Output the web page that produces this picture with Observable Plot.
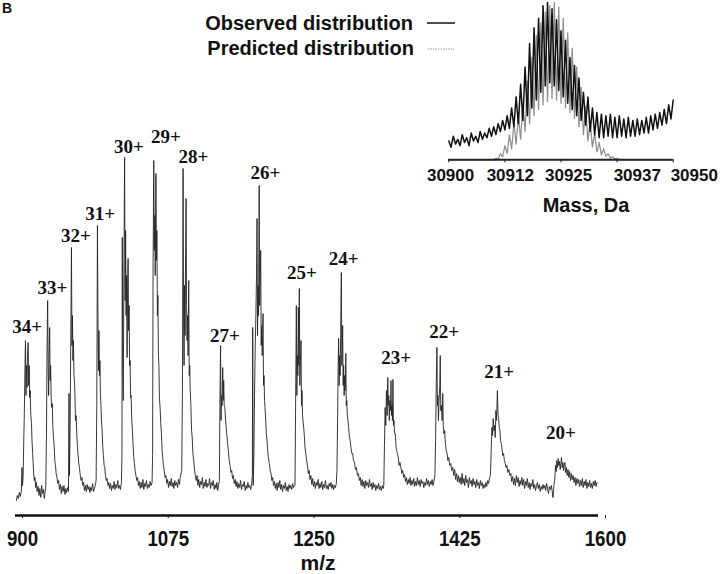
<!DOCTYPE html>
<html><head><meta charset="utf-8">
<script src="https://cdn.jsdelivr.net/npm/d3@7"></script>
<script src="https://cdn.jsdelivr.net/npm/@observablehq/plot@0.6"></script>
<style>
body{margin:0;background:#fff;}
#wrap{position:relative;width:720px;height:574px;overflow:hidden;background:#fff;}
#wrap svg{position:absolute;}
</style></head><body><div id="wrap"></div>
<script>
// ---------- main spectrum data ----------
const xTicks = [900, 1075, 1250, 1425, 1600];
const chargeLabels = ["34+","33+","32+","31+","30+","29+","28+","27+","26+","25+","24+","23+","22+","21+","20+"];
const labelMz = [914.0, 944.4, 972.6, 1001.6, 1036.3, 1080.6, 1113.6, 1151.4, 1200.0, 1244.0, 1294.0, 1357.0, 1414.8, 1480.6, 1555.0];
const labelIntensity = [183, 222, 274, 296, 363, 373, 353, 174, 337, 237, 251, 152, 178, 138, 77];

// [m/z, intensity (arbitrary counts)]
const spectrum = [
 [901.0,15],[902.2,20],[903.4,17],[904.6,23],[905.8,19],[907.0,24],[907.8,48],[908.4,30],[909.2,40],[909.8,70],[910.6,102],[911.4,150],[912.0,175],[912.6,120],[913.2,150],[913.8,128],[914.4,160],[915.2,173],[915.8,130],[916.4,150],[917.0,118],[917.6,125],[918.4,100],[919.2,92],[919.8,75],[920.6,62],[921.2,52],[921.8,42],[922.6,35],[923.4,38],[924.2,28],[925.2,33],[926.0,24],[927.2,29],[928.2,20],[929.2,27],[930.4,18],[931.4,30],[932.4,22],[933.6,26],[934.6,17],[935.6,24],
 [936.4,30],[937.2,80],[937.8,160],[938.6,215],[939.2,150],[939.8,120],[940.4,160],[941.0,188],[941.6,135],[942.2,150],[942.8,118],[943.4,108],[944.2,112],[944.8,90],[945.6,78],[946.4,70],[947.2,55],[948.0,50],[948.8,42],[949.8,38],[950.8,32],[951.8,35],[952.8,26],[954.0,31],[955.0,22],[956.0,29],[957.2,24],[958.2,30],[959.4,21],[960.4,27],[961.4,23],[962.6,28],[963.6,24],
 [964.2,122],[964.8,40],[965.6,90],[966.4,180],[967.2,268],[967.8,170],[968.4,200],[969.0,155],[969.6,175],[970.2,140],[970.8,135],[971.4,120],[972.0,95],[972.8,100],[973.6,80],[974.4,68],[975.2,60],[976.0,52],[976.8,48],[977.8,40],[978.8,35],[979.8,38],[980.8,30],[981.8,33],[982.8,25],[984.0,30],[985.0,24],[986.0,31],[987.2,26],[988.2,29],[989.4,23],[990.4,28],[991.4,25],[992.6,32],[993.6,24],[994.8,27],[995.8,30],
 [996.8,35],[997.6,110],[998.4,290],[999.0,200],[999.6,145],[1000.2,185],[1000.8,140],[1001.4,155],[1002.0,120],[1002.6,110],[1003.2,95],[1004.0,85],[1004.8,68],[1005.6,60],[1006.4,50],[1007.2,48],[1008.0,40],[1009.0,35],[1010.0,37],[1011.0,30],[1012.0,33],[1013.0,27],[1014.2,32],[1015.2,25],[1016.2,30],[1017.4,27],[1018.4,34],[1019.6,26],[1020.6,31],[1021.6,28],[1022.8,35],[1023.8,27],[1025.0,30],[1026.0,26],[1027.2,33],
 [1027.8,60],[1028.2,278],[1028.8,150],[1029.4,115],[1030.2,250],[1031.0,358],[1031.6,215],[1032.2,285],[1032.8,200],[1033.4,240],[1034.0,158],[1034.6,230],[1035.2,257],[1035.8,185],[1036.4,210],[1037.0,150],[1037.6,155],[1038.2,118],[1038.8,120],[1039.6,95],[1040.4,85],[1041.2,70],[1042.0,58],[1042.8,52],[1043.6,45],[1044.6,40],[1045.6,35],[1046.6,38],[1047.6,30],[1048.6,34],[1049.8,27],[1050.8,33],[1051.8,28],[1053.0,36],[1054.0,26],[1055.2,32],[1056.2,29],[1057.2,35],[1058.4,27],[1059.4,31],[1060.6,28],[1061.6,34],[1062.8,30],[1064.0,33],
 [1064.6,60],[1065.2,250],[1066.0,355],[1066.6,265],[1067.2,300],[1067.8,240],[1068.6,342],[1069.2,255],[1069.8,285],[1070.4,200],[1071.0,220],[1071.6,160],[1072.2,150],[1072.8,118],[1073.6,108],[1074.4,92],[1075.2,82],[1076.0,65],[1076.8,58],[1077.6,50],[1078.6,45],[1079.6,38],[1080.6,40],[1081.6,32],[1082.6,36],[1083.8,28],[1084.8,34],[1085.8,30],[1087.0,37],[1088.0,29],[1089.2,33],[1090.2,27],[1091.2,35],[1092.4,30],[1093.4,33],[1094.6,28],[1095.6,36],[1096.8,31],[1097.8,38],
 [1099.6,45],[1100.4,120],[1101.2,347],[1101.8,200],[1102.4,150],[1103.0,230],[1103.6,180],[1104.2,260],[1104.8,317],[1105.4,210],[1106.0,175],[1106.6,200],[1107.2,160],[1108.0,235],[1108.6,140],[1109.2,150],[1109.8,125],[1110.6,110],[1111.4,85],[1112.2,78],[1113.0,62],[1114.0,55],[1115.0,45],[1116.0,40],[1117.0,35],[1118.0,40],[1119.0,30],[1120.0,36],[1121.2,28],[1122.2,34],[1123.2,31],[1124.4,38],[1125.4,27],[1126.6,33],[1127.6,29],[1128.6,36],[1129.8,28],[1130.8,32],[1132.0,30],[1133.0,37],[1134.2,27],[1135.2,33],[1136.4,30],[1137.4,35],[1138.6,26],[1139.6,31],[1140.8,27],[1141.8,33],[1142.8,25],
 [1144.8,35],[1145.4,110],[1146.2,170],[1146.8,95],[1147.4,120],[1148.0,110],[1148.8,148],[1149.4,115],[1150.0,135],[1150.6,110],[1151.4,108],[1152.2,95],[1153.0,88],[1153.8,80],[1154.6,72],[1155.6,65],[1156.6,55],[1157.6,50],[1158.6,43],[1159.6,45],[1160.6,37],[1161.6,40],[1162.6,32],[1163.8,36],[1164.8,29],[1165.8,34],[1167.0,27],[1168.0,32],[1169.2,28],[1170.2,35],[1171.4,26],[1172.4,31],[1173.6,29],[1174.6,34],[1175.8,25],[1176.8,30],[1178.0,27],[1179.0,33],[1180.2,28],[1181.2,30],[1182.4,26],[1183.4,31],
 [1184.4,40],[1184.8,188],[1185.4,30],[1186.2,60],[1187.0,120],[1187.8,168],[1188.6,200],[1189.4,240],[1190.0,297],[1190.6,180],[1191.2,230],[1191.8,200],[1192.6,330],[1193.2,210],[1193.8,235],[1194.4,265],[1195.0,170],[1195.6,190],[1196.2,160],[1196.8,180],[1197.2,202],[1197.8,130],[1198.4,140],[1199.0,115],[1199.6,108],[1200.4,95],[1201.2,82],[1202.0,75],[1202.8,65],[1203.6,58],[1204.8,52],[1205.8,45],[1206.8,42],[1207.8,35],[1208.8,38],[1209.8,30],[1211.0,34],[1212.0,27],[1213.0,32],[1214.2,25],[1215.2,33],[1216.2,28],[1217.4,35],[1218.4,26],[1219.6,31],[1220.6,24],[1221.8,30],[1222.8,27],[1224.0,33],[1225.0,25],[1226.2,29],[1227.2,24],[1228.4,31],[1229.4,27],[1230.6,30],[1231.6,26],[1232.8,32],[1233.8,28],
 [1235.6,30],[1236.4,120],[1237.2,210],[1237.8,120],[1238.4,160],[1239.0,140],[1239.6,208],[1240.2,150],[1240.8,227],[1241.4,130],[1242.0,150],[1242.8,175],[1243.4,110],[1244.0,125],[1244.6,100],[1245.2,95],[1246.0,88],[1246.8,80],[1247.6,68],[1248.6,62],[1249.6,55],[1250.6,50],[1251.6,42],[1252.6,45],[1253.6,36],[1254.6,40],[1255.8,31],[1256.8,37],[1257.8,29],[1259.0,34],[1260.0,27],[1261.2,33],[1262.2,30],[1263.4,36],[1264.4,27],[1265.6,32],[1266.6,28],[1267.8,34],[1268.8,26],[1270.0,31],[1271.0,28],[1272.2,35],[1273.2,27],[1274.4,30],[1275.4,26],[1276.6,32],[1277.6,29],[1278.8,33],[1279.8,27],[1281.0,31],[1282.0,26],[1283.2,30],[1284.2,28],
 [1285.2,32],[1286.0,45],[1286.8,100],[1287.4,150],[1288.0,177],[1288.6,130],[1289.2,160],[1289.8,140],[1290.4,180],[1291.2,243],[1291.8,150],[1292.4,165],[1292.8,190],[1293.4,130],[1294.0,150],[1294.6,120],[1295.2,140],[1295.8,125],[1296.6,162],[1297.2,110],[1297.8,115],[1298.4,100],[1299.2,95],[1300.0,88],[1300.8,80],[1301.8,75],[1302.8,68],[1303.8,62],[1304.8,62],[1305.8,55],[1307.0,53],[1308.2,46],[1309.4,48],[1310.6,40],[1311.8,42],[1312.8,35],[1314.0,38],[1315.0,30],[1316.2,36],[1317.2,29],[1318.4,34],[1319.4,27],[1320.6,35],[1321.6,30],[1322.8,33],[1323.8,28],[1325.0,36],[1326.0,29],[1327.2,32],[1328.2,26],[1329.4,33],[1330.4,28],[1331.6,31],[1332.6,25],[1333.8,30],[1334.8,27],[1336.0,32],[1337.0,26],[1338.2,29],[1339.2,25],[1340.4,30],[1341.4,27],
 [1342.2,30],[1343.0,70],[1343.8,108],[1344.6,90],[1345.4,125],[1346.2,100],[1347.0,138],[1347.6,110],[1348.2,120],[1348.8,95],[1349.6,115],[1350.4,105],[1350.8,135],[1351.4,100],[1352.0,110],[1352.6,95],[1353.2,136],[1353.8,90],[1354.4,95],[1355.2,82],[1356.0,82],[1356.8,70],[1357.6,65],[1358.6,62],[1359.6,58],[1360.6,50],[1361.6,53],[1362.8,48],[1363.8,42],[1365.0,45],[1366.0,38],[1367.2,41],[1368.2,34],[1369.4,38],[1370.4,31],[1371.6,36],[1372.6,32],[1373.8,38],[1374.8,30],[1376.0,35],[1377.0,31],[1378.2,37],[1379.2,29],[1380.4,34],[1381.4,30],[1382.6,38],[1383.6,31],[1384.8,35],[1385.8,29],[1387.0,36],[1388.0,32],[1389.2,34],[1390.2,28],[1391.4,33],[1392.4,30],[1393.6,37],[1394.6,31],[1395.8,35],[1396.8,29],[1398.0,34],[1399.0,31],[1400.2,36],[1401.2,30],[1402.4,34],
 [1403.6,40],[1404.4,75],[1405.2,132],[1406.0,168],[1406.6,110],[1407.2,120],[1407.8,95],[1408.6,115],[1409.4,130],[1410.0,160],[1410.6,105],[1411.4,110],[1412.2,95],[1413.0,122],[1413.6,90],[1414.4,82],[1415.2,85],[1416.2,72],[1417.2,65],[1418.2,62],[1419.2,55],[1420.2,58],[1421.4,50],[1422.6,52],[1423.8,45],[1425.0,48],[1426.2,40],[1427.4,46],[1428.4,36],[1429.6,42],[1430.6,34],[1431.8,40],[1432.8,33],[1434.0,38],[1435.0,31],[1436.2,42],[1437.2,32],[1438.4,37],[1439.4,30],[1440.6,40],[1441.6,33],[1442.8,36],[1443.8,28],[1445.0,38],[1446.0,32],[1447.2,35],[1448.2,29],[1449.4,37],[1450.4,31],[1451.6,34],[1452.6,28],[1453.8,36],[1454.8,30],[1456.0,33],[1457.0,27],[1458.2,35],[1459.2,30],[1460.4,33],[1461.4,27],[1462.6,31],[1463.6,28],[1464.8,33],[1465.8,29],[1467.0,35],[1468.0,32],[1469.2,38],
 [1470.2,40],[1471.0,60],[1472.0,88],[1472.8,80],[1473.6,97],[1474.4,85],[1475.2,90],[1476.0,78],[1476.8,105],[1477.6,95],[1478.6,125],[1479.4,100],[1480.0,98],[1480.8,88],[1481.6,85],[1482.4,75],[1483.2,72],[1484.0,68],[1485.0,60],[1486.0,62],[1487.0,55],[1488.0,52],[1489.0,48],[1490.0,50],[1491.2,43],[1492.4,46],[1493.6,40],[1494.8,42],[1495.8,34],[1497.0,39],[1498.0,31],[1499.2,37],[1500.2,30],[1501.4,40],[1502.4,33],[1503.6,38],[1504.6,29],[1505.8,35],[1506.8,31],[1508.0,38],[1509.0,30],[1510.2,36],[1511.2,27],[1512.4,34],[1513.4,30],[1514.6,37],[1515.6,28],[1516.8,33],[1517.8,26],[1519.0,32],[1520.0,29],[1521.2,36],[1522.2,27],[1523.4,31],[1524.4,25],[1525.6,30],[1526.6,33],[1527.8,27],[1528.8,31],[1530.0,24],[1531.2,29],[1532.2,26],[1533.4,31],[1534.4,27],[1535.6,30],[1536.6,25],[1537.8,32],[1538.8,27],[1540.0,22],[1541.0,29],
 [1542.2,26],[1543.4,30],[1544.4,24],[1545.4,18],[1546.4,30],[1547.4,35],[1548.4,50],[1549.2,44],[1550.0,55],[1550.8,48],[1551.6,57],[1552.4,50],[1553.2,54],[1554.0,46],[1554.8,52],[1555.6,58],[1556.4,48],[1557.2,53],[1558.0,45],[1558.8,50],[1559.6,53],[1560.4,43],[1561.4,48],[1562.4,40],[1563.4,46],[1564.4,38],[1565.4,44],[1566.4,35],[1567.4,42],[1568.4,36],[1569.6,40],[1570.6,33],[1571.8,38],[1572.8,30],[1574.0,37],[1575.0,32],[1576.2,36],[1577.2,29],[1578.4,35],[1579.4,30],[1580.6,37],[1581.6,28],[1582.8,34],[1583.8,30],[1585.0,36],[1586.0,27],[1587.2,33],[1588.2,29],[1589.4,35],[1590.4,28],[1591.6,32],[1592.6,27],[1593.8,34],[1594.8,30],[1596.0,35],[1597.0,29],[1598.2,33]
];

// ---------- inset (deconvoluted) data ----------
const insetTicks = [30900, 30912.5, 30925, 30937.5, 30950];
const insetTickLabels = ["30900", "30912", "30925", "30937", "30950"];
const insetTickLabelMass = [30900.4, 30913.7, 30926.7, 30942.0, 30954.7];

const observedMass = [30900,30901,30902,30903,30904,30905,30906,30907,30908,30909,30910,30911,30912,30913,30914,30915,30916,30917,30918,30919,30920,30921,30922,30923,30924,30925,30926,30927,30928,30929,30930,30931,30932,30933,30934,30935,30936,30937,30938,30939,30940,30941,30942,30943,30944,30945,30946,30947,30948,30949,30950];
const observedMax = [12,15,13,16,14,17,15,18,17,20,21,23,25,28,33,40,48,59,74,84,90,98,100,96,89,82,76,65,60,52,43,40,33,30,29,28,29,27,28,26,27,25,26,25,27,28,29,30,32,35,38];
const observedMin = [8,10,9,11,9,12,11,13,14,15,16,18,19,20,21,23,25,28,33,38,43,47,49,47,44,40,36,32,28,25,22,18,16,14,14,15,14,14,15,14,15,15,16,17,17,19,20,22,23,26];

const predictedPeakMass = [30910.5,30911.5,30912.5,30913.5,30914.5,30915.5,30916.5,30917.5,30918.5,30919.5,30920.5,30921.5,30922.5,30923.5,30924.5,30925.5,30926.5,30927.5,30928.5,30929.5,30930.5,30931.5,30932.5,30933.5,30934.5,30935.5,30936.5,30937.5];
const predictedPeak = [1,4,9,16,23,28,36,50,65,79,87,94,98,100,97,90,81,71,59,46,34,24,17,11,7,4,2,1];
const predictedTrough = [0.5,2,4,7,10,13,18,23,28,32,35,37,39,38,36,33,30,26,21,16,12,8,5,3,2,1,0.5,0];
const predictedRange = [30900, 30950];

// build zig-zag tables from the arrays
const observed = [];
observedMass.forEach((m, i) => {
  observed.push({mass: m, v: observedMax[i]});
  if (i < observedMin.length) observed.push({mass: m + 0.5, v: observedMin[i]});
});
const predicted = [{mass: predictedRange[0], v: 0}, {mass: predictedPeakMass[0] - 0.5, v: 0}];
predictedPeakMass.forEach((m, i) => {
  predicted.push({mass: m, v: predictedPeak[i]});
  predicted.push({mass: m + 0.5, v: predictedTrough[i]});
});
predicted.push({mass: predictedRange[1], v: 0});

const sans = '"Liberation Sans", Arial, Helvetica, sans-serif';
const serif = '"Liberation Serif", "Times New Roman", serif';
const condense = 0.85; // horizontal squeeze to mimic a condensed bold face

const wrap = document.getElementById("wrap");

const main = Plot.plot({
  width: 720, height: 574,
  marginLeft: 15, marginRight: 122, marginTop: 157, marginBottom: 59,
  x: {domain: [900, 1600], axis: null},
  y: {domain: [0, 358], axis: null},
  style: {background: "transparent", overflow: "visible", color: "#111"},
  marks: [
    Plot.line(spectrum, {x: d => d[0], y: d => d[1], stroke: "#222", strokeWidth: 0.9}),
    Plot.ruleY([0], {stroke: "#111", strokeWidth: 2.5}),
    Plot.axisX({ticks: xTicks, tickFormat: d => String(d), tickSize: 3, tickPadding: 12, dx: 7,
      label: null, fontSize: 22, fontFamily: sans, fontWeight: "bold", fill: "#111"}),
    Plot.text(chargeLabels, {x: (d, i) => labelMz[i], y: (d, i) => labelIntensity[i], text: d => d,
      lineAnchor: "bottom", fontFamily: serif, fontWeight: "bold", fontSize: 19, fill: "#111"})
  ]
});
main.style.left = "0px"; main.style.top = "0px";
wrap.appendChild(main);

// squeeze the main tick labels horizontally around their anchor
d3.select(main).selectAll('g[aria-label="x-axis tick label"] text').each(function() {
  const tr = this.getAttribute("transform");
  if (tr) {
    this.setAttribute("transform", tr + ` scale(${condense},1)`);
  } else {
    const x = +this.getAttribute("x") || 0, y = +this.getAttribute("y") || 0;
    this.removeAttribute("x"); this.removeAttribute("y");
    this.setAttribute("transform", `translate(${x},${y}) scale(${condense},1)`);
  }
});

const inset = Plot.plot({
  width: 290, height: 220,
  marginLeft: 18.3, marginRight: 47.3, marginTop: 2, marginBottom: 60.7,
  x: {domain: [30900, 30950], axis: null},
  y: {domain: [0, 100], axis: null},
  style: {background: "transparent", overflow: "visible", color: "#111"},
  marks: [
    Plot.line(predicted, {x: "mass", y: "v", stroke: "#8c8c8c", strokeWidth: 1.3, strokeDasharray: "1.2,1"}),
    Plot.ruleY([0], {stroke: "#222", strokeWidth: 2}),
    Plot.line(observed, {x: "mass", y: "v", stroke: "#111", strokeWidth: 1.5}),
    Plot.axisX({ticks: insetTicks, tickFormat: () => "", tickSize: 3, label: null}),
    Plot.text(insetTickLabels, {x: (d, i) => insetTickLabelMass[i], y: () => 0, text: d => d, dy: 20.7,
      lineAnchor: "bottom", fontFamily: sans, fontWeight: "bold", fontSize: 17, fill: "#111"})
  ]
});
inset.style.left = "430px"; inset.style.top = "0px";
wrap.appendChild(inset);

// annotations: panel letter, legend, axis titles
const ov = d3.select(wrap).append("svg").attr("width", 720).attr("height", 574)
  .style("left", "0px").style("top", "0px").style("overflow", "visible");
const t = (x, y, s, size, anchor, sx = 1) => ov.append("text")
  .attr("transform", `translate(${x},${y}) scale(${sx},1)`)
  .attr("text-anchor", anchor).attr("font-family", sans).attr("font-weight", "bold")
  .attr("font-size", size).attr("fill", "#111").text(s);
t(2, 13, "B", 14, "start");
t(413, 30, "Observed distribution", 20, "end");
t(414, 55, "Predicted distribution", 20, "end");
ov.append("line").attr("x1", 427).attr("x2", 455).attr("y1", 23).attr("y2", 23).attr("stroke", "#111").attr("stroke-width", 1.5);
ov.append("line").attr("x1", 428).attr("x2", 454).attr("y1", 49).attr("y2", 49).attr("stroke", "#999").attr("stroke-width", 1.2).attr("stroke-dasharray", "1.5,1");
t(318, 570, "m/z", 21, "middle");
t(586, 212, "Mass, Da", 20, "middle");
</script></body></html>
